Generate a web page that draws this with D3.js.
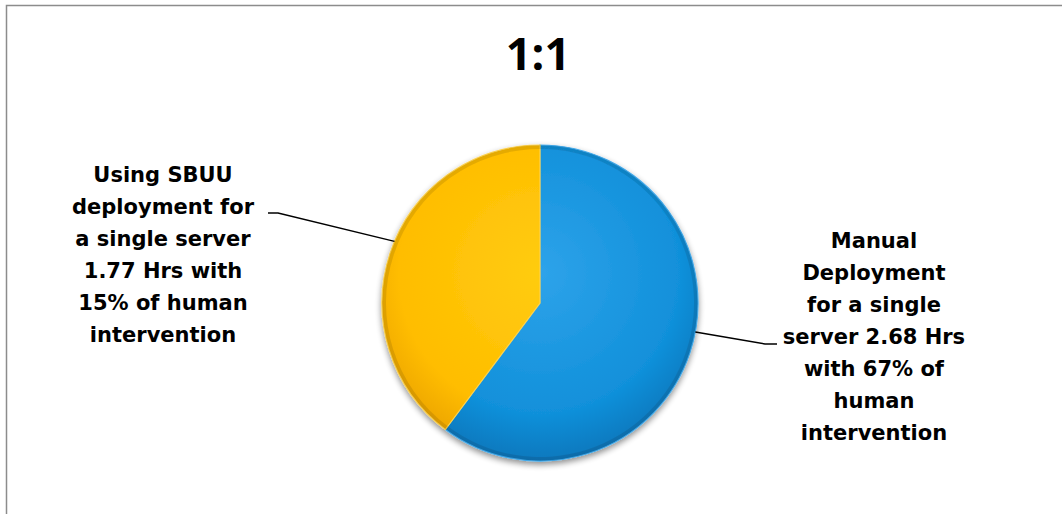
<!DOCTYPE html>
<html><head><meta charset="utf-8">
<script src="https://cdn.jsdelivr.net/npm/d3@7"></script>
<style>body{margin:0;background:#fff}svg{display:block}</style>
</head><body>
<script>
const title = "1:1";
const categories = ["Manual Deployment", "Using SBUU deployment"];
const values = [2.68, 1.77];
const labelLines = [
  ["Manual", "Deployment", "for a single", "server 2.68 Hrs", "with 67% of", "human", "intervention"],
  ["Using SBUU", "deployment for", "a single server", "1.77 Hrs with", "15% of human", "intervention"]
];
const colors = [["#2ea3ea", "#1190da", "#0a78bd"], ["#ffcc10", "#ffbd00", "#eca400"]];

const W = 1062, H = 514;
const svg = d3.select("body").append("svg").attr("width", W).attr("height", H);
svg.append("rect").attr("x", 6.5).attr("y", 5.5).attr("width", W + 10).attr("height", H + 10)
  .attr("fill", "#fff").attr("stroke", "#8c8c8c").attr("stroke-width", 1.5);

svg.append("text").attr("x", 538).attr("y", 70).attr("text-anchor", "middle")
  .attr("font-family", "'Open Sans', sans-serif").attr("font-weight", 700)
  .attr("font-size", 45).attr("fill", "#000").text(title);

const cx = 540, cy = 303, R = 158;
const defs = svg.append("defs");
colors.forEach((c, i) => {
  const g = defs.append("radialGradient").attr("id", "g" + i)
    .attr("gradientUnits", "userSpaceOnUse").attr("cx", 0).attr("cy", -30).attr("r", R + 30);
  g.append("stop").attr("offset", "0%").attr("stop-color", c[0]);
  g.append("stop").attr("offset", "75%").attr("stop-color", c[1]);
  g.append("stop").attr("offset", "100%").attr("stop-color", c[2]);
});
const f = defs.append("filter").attr("id", "sh").attr("x", "-20%").attr("y", "-20%").attr("width", "140%").attr("height", "140%");
f.append("feGaussianBlur").attr("in", "SourceAlpha").attr("stdDeviation", 3);
f.append("feOffset").attr("dx", 0).attr("dy", 3).attr("result", "b");
f.append("feComponentTransfer").append("feFuncA").attr("type", "linear").attr("slope", 0.45);
const m = f.append("feMerge"); m.append("feMergeNode"); m.append("feMergeNode").attr("in", "SourceGraphic");

const pie = d3.pie().sort(null).value(d => d)(values);
const arc = d3.arc().innerRadius(0).outerRadius(R);
const gp = svg.append("g").attr("transform", `translate(${cx},${cy})`).attr("filter", "url(#sh)");
gp.selectAll("path").data(pie).join("path").attr("d", arc)
  .attr("fill", (d, i) => `url(#g${i})`).attr("stroke", (d, i) => i ? "#ffd24a" : "#45aef0").attr("stroke-width", 1.2);
const bevel = d3.arc().innerRadius(R - 4).outerRadius(R);
gp.selectAll("path.bv").data(pie).join("path").attr("class", "bv").attr("d", bevel)
  .attr("fill", "rgba(0,0,0,0.10)");

const labelPos = [{x: 874, y: 248}, {x: 163, y: 182}];
const lh = 32;
labelLines.forEach((lines, i) => {
  const t = svg.append("text").attr("text-anchor", "middle")
    .attr("font-family", "'DejaVu Sans', sans-serif").attr("font-weight", 700)
    .attr("font-size", 21).attr("fill", "#000");
  lines.forEach((l, j) => t.append("tspan").attr("x", labelPos[i].x).attr("y", labelPos[i].y + j * lh).text(l));
});

function edgePoint(angle) { return [cx + R * Math.sin(angle), cy - R * Math.cos(angle)]; }
const p0 = edgePoint(1.755);
const p1 = edgePoint(-1.17 + 2 * Math.PI);
svg.append("polyline").attr("points", `${p0[0]},${p0[1]} 765,344 777,344`)
  .attr("fill", "none").attr("stroke", "#000").attr("stroke-width", 1.5);
svg.append("polyline").attr("points", `${p1[0]},${p1[1]} 278,213 268,213`)
  .attr("fill", "none").attr("stroke", "#000").attr("stroke-width", 1.5);
</script>
</body></html>
